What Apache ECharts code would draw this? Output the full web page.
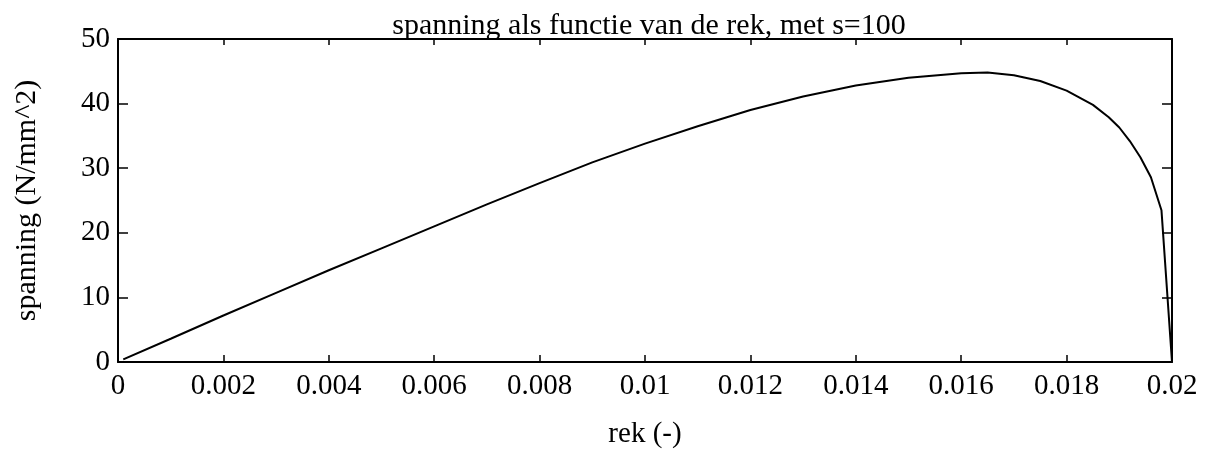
<!DOCTYPE html>
<html>
<head>
<meta charset="utf-8">
<title>spanning als functie van de rek</title>
<script src="https://cdn.jsdelivr.net/npm/echarts@6/dist/echarts.min.js"></script>
<style>
  html, body { margin: 0; padding: 0; background: #fff; }
  #vis { width: 1211px; height: 457px; }
</style>
</head>
<body>
<div id="vis"></div>
<script>
// values
const rek = [0.0001, 0.001, 0.002, 0.003, 0.004, 0.005, 0.006, 0.007, 0.008, 0.009,
  0.010, 0.011, 0.012, 0.013, 0.014, 0.015, 0.016, 0.0165, 0.017, 0.0175,
  0.018, 0.0185, 0.0188, 0.019, 0.0192, 0.0194, 0.0196, 0.0198, 0.0200]
const spanning = [0.4, 3.6, 7.2, 10.7, 14.2, 17.6, 21.0, 24.4, 27.7, 30.9,
  33.8, 36.5, 39.0, 41.1, 42.8, 44.0, 44.7, 44.8, 44.4, 43.5,
  42.0, 39.8, 37.9, 36.3, 34.2, 31.7, 28.6, 23.5, 0]
const xTickLabels = ['0', '0.002', '0.004', '0.006', '0.008', '0.01', '0.012', '0.014', '0.016', '0.018', '0.02']
const yTickLabels = ['0', '10', '20', '30', '40', '50']

const font = "'Liberation Serif', 'DejaVu Serif', serif"

const chart = echarts.init(document.getElementById('vis'), null, { renderer: 'canvas' })

const points = rek.map((r, i) => [r, spanning[i]])

const axisLine = { show: true, onZero: false, lineStyle: { color: '#000', width: 2 } }

const options = {
  animation: false,
  backgroundColor: '#fff',
  title: {
    text: 'spanning als functie van de rek, met s=100',
    left: 644,
    top: 6,
    textAlign: 'center',
    textStyle: { fontFamily: font, fontSize: 30, fontWeight: 'normal', color: '#000' }
  },
  grid: { left: 118, right: 39, top: 39, bottom: 95 },
  xAxis: [
    {
      type: 'value',
      min: 0,
      max: 0.02,
      interval: 0.002,
      name: 'rek (-)',
      nameLocation: 'middle',
      nameGap: 58,
      nameTextStyle: { fontFamily: font, fontSize: 29, color: '#000' },
      axisLine,
      axisTick: { show: true, inside: true, length: 7, lineStyle: { color: '#000', width: 1.5 } },
      axisLabel: {
        margin: 10,
        fontFamily: font,
        fontSize: 29,
        color: '#000',
        formatter: (v) => xTickLabels[Math.round(v / 0.002)]
      },
      splitLine: { show: false }
    },
    {
      type: 'value',
      position: 'top',
      min: 0,
      max: 0.02,
      interval: 0.002,
      axisLine,
      axisTick: { show: true, inside: true, length: 6, lineStyle: { color: '#000', width: 1.5 } },
      axisLabel: { show: false },
      splitLine: { show: false }
    }
  ],
  yAxis: [
    {
      type: 'value',
      min: 0,
      max: 50,
      interval: 10,
      name: 'spanning (N/mm^2)',
      nameLocation: 'middle',
      nameGap: 76,
      nameTextStyle: { fontFamily: font, fontSize: 30, color: '#000' },
      axisLine,
      axisTick: { show: true, inside: true, length: 10, lineStyle: { color: '#000', width: 1.5 } },
      axisLabel: {
        margin: 8,
        fontFamily: font,
        fontSize: 29,
        color: '#000',
        formatter: (v) => yTickLabels[Math.round(v / 10)]
      },
      splitLine: { show: false }
    },
    {
      type: 'value',
      position: 'right',
      min: 0,
      max: 50,
      interval: 10,
      axisLine,
      axisTick: { show: true, inside: true, length: 10, lineStyle: { color: '#000', width: 1.5 } },
      axisLabel: { show: false },
      splitLine: { show: false }
    }
  ],
  series: [
    {
      type: 'line',
      data: points,
      showSymbol: false,
      smooth: false,
      lineStyle: { color: '#000', width: 2 }
    }
  ]
}

chart.setOption(options)
</script>
</body>
</html>
